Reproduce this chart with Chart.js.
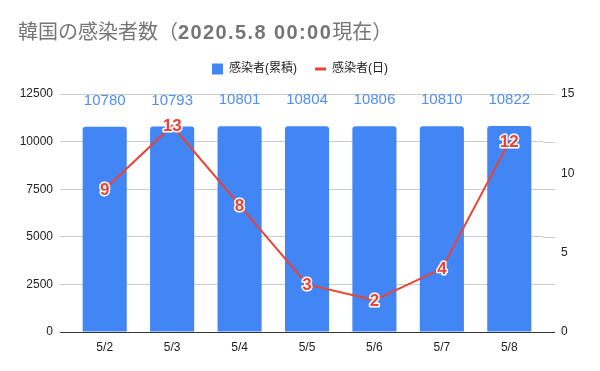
<!DOCTYPE html>
<html>
<head>
<meta charset="utf-8">
<script src="https://cdn.jsdelivr.net/npm/chart.js@4/dist/chart.umd.min.js"></script>
<style>
  html, body { margin: 0; padding: 0; background: #fff; }
  #wrap { width: 600px; height: 371px; }
</style>
</head>
<body>
<div id="wrap"><canvas id="my-chart"></canvas></div>
<script>
let days = ["5/2", "5/3", "5/4", "5/5", "5/6", "5/7", "5/8"]
let totalCases = [10780, 10793, 10801, 10804, 10806, 10810, 10822]
let dailyCases = [9, 13, 8, 3, 2, 4, 12]
let leftTicks = [0, 2500, 5000, 7500, 10000, 12500]
let rightTicks = [0, 5, 10, 15]
let titleParts = ["韓国の感染者数（", "2020.5.8 00:00", "現在）"]

const FONT = "'Liberation Sans', Arial, 'Noto Sans CJK JP', sans-serif"
const BLUE = "#4285f4"
const RED = "#ea4335"
const GRID = "#cccccc"
const AXIS = "#333333"

// title with a bold (wide) middle part
const titlePlugin = {
    id: "mixedTitle",
    afterDraw(chart) {
        const ctx = chart.ctx
        ctx.save()
        ctx.fillStyle = "#757575"
        ctx.textBaseline = "middle"
        let x = 18
        const y = 33
        titleParts.forEach((t, i) => {
            if (i === 1) {
                ctx.font = "bold 20px " + FONT
                for (const ch of t) {
                    ctx.fillText(ch, x, y)
                    x += ctx.measureText(ch).width + 1.4
                }
            } else {
                ctx.font = "20px " + FONT
                ctx.fillText(t, x, y)
                x += ctx.measureText(t).width
            }
        })
        ctx.restore()
    }
}

// gridlines reach a bit past the plot on the right side too
const gridExtend = {
    id: "gridExtend",
    beforeDatasetsDraw(chart) {
        const y = chart.scales.y
        const area = chart.chartArea
        const ctx = chart.ctx
        ctx.save()
        ctx.lineWidth = 1
        y.ticks.forEach(t => {
            const py = Math.round(y.getPixelForValue(t.value)) + 0.5
            ctx.strokeStyle = t.value === 0 ? AXIS : GRID
            ctx.beginPath()
            ctx.moveTo(area.right, py)
            ctx.lineTo(area.right + 12, py)
            ctx.stroke()
        })
        ctx.restore()
    }
}

// value labels
const valueLabels = {
    id: "valueLabels",
    afterDatasetsDraw(chart) {
        const ctx = chart.ctx
        ctx.save()
        ctx.textAlign = "center"
        ctx.textBaseline = "middle"

        const bars = chart.getDatasetMeta(0)
        ctx.font = "15px " + FONT
        ctx.fillStyle = "#4f8ef5"
        bars.data.forEach((el, i) => {
            ctx.fillText(String(totalCases[i]), el.x, el.y - 26)
        })

        const line = chart.getDatasetMeta(1)
        ctx.font = "bold 17px " + FONT
        ctx.lineJoin = "round"
        ctx.lineWidth = 3
        ctx.strokeStyle = "#ffffff"
        ctx.fillStyle = RED
        line.data.forEach((el, i) => {
            ctx.strokeText(String(dailyCases[i]), el.x, el.y + 1)
            ctx.fillText(String(dailyCases[i]), el.x, el.y + 1)
        })
        ctx.restore()
    }
}

new Chart("my-chart", {
    type: "bar",
    data: {
        labels: days,
        datasets: [{
            type: "bar",
            label: "感染者(累積)",
            data: totalCases,
            backgroundColor: BLUE,
            borderWidth: 0,
            borderRadius: {topLeft: 3, topRight: 3},
            borderSkipped: "bottom",
            barPercentage: 1,
            categoryPercentage: 0.654,
            pointStyle: "rect",
            yAxisID: "y",
            order: 1
        }, {
            type: "line",
            label: "感染者(日)",
            data: dailyCases,
            borderColor: RED,
            backgroundColor: RED,
            borderWidth: 2,
            pointRadius: 0,
            pointHoverRadius: 0,
            pointStyle: "line",
            tension: 0,
            yAxisID: "y1",
            order: 0
        }]
    },
    options: {
        responsive: true,
        maintainAspectRatio: false,
        animation: false,
        layout: {
            padding: {top: 45, left: 0, right: 0, bottom: 0}
        },
        plugins: {
            title: {display: false},
            // empty spacer between legend and plot
            subtitle: {
                display: true,
                text: "",
                weight: 500,
                font: {size: 1, lineHeight: 1},
                padding: {top: 0, bottom: 8}
            },
            tooltip: {enabled: false},
            legend: {
                display: true,
                position: "top",
                align: "center",
                labels: {
                    usePointStyle: true,
                    pointStyleWidth: 11,
                    boxWidth: 11,
                    boxHeight: 11,
                    padding: 18,
                    color: "#222222",
                    font: {family: FONT, size: 12},
                    sort: (a, b) => a.datasetIndex - b.datasetIndex,
                    generateLabels(chart) {
                        const items = Chart.defaults.plugins.legend.labels.generateLabels(chart)
                        items.forEach(it => {
                            if (it.datasetIndex === 1) {
                                it.lineWidth = 3
                                it.strokeStyle = RED
                            } else {
                                it.lineWidth = 0
                            }
                        })
                        return items
                    }
                }
            }
        },
        scales: {
            x: {
                grid: {display: false, drawTicks: false},
                border: {display: false},
                ticks: {
                    color: "#222222",
                    font: {family: FONT, size: 12},
                    padding: 8
                },
                afterFit(scale) { scale.height = 39 }
            },
            y: {
                position: "left",
                min: 0,
                max: 12500,
                afterBuildTicks(scale) {
                    scale.ticks = leftTicks.map(v => ({value: v}))
                },
                grid: {
                    color: ctx => ctx.tick && ctx.tick.value === 0 ? AXIS : GRID,
                    tickColor: ctx => ctx.tick && ctx.tick.value === 0 ? AXIS : GRID,
                    drawTicks: true,
                    tickLength: 11
                },
                border: {display: false},
                ticks: {
                    color: "#222222",
                    font: {family: FONT, size: 12},
                    padding: 7,
                    callback: v => String(v)
                },
                afterFit(scale) { scale.width = 71 }
            },
            y1: {
                position: "right",
                min: 0,
                max: 15,
                afterBuildTicks(scale) {
                    scale.ticks = rightTicks.map(v => ({value: v}))
                },
                grid: {display: false, drawTicks: false},
                border: {display: false},
                ticks: {
                    color: "#222222",
                    font: {family: FONT, size: 12},
                    padding: 18,
                    callback: v => String(v)
                },
                afterFit(scale) { scale.width = 57 }
            }
        }
    },
    plugins: [gridExtend, valueLabels, titlePlugin]
})
</script>
</body>
</html>
